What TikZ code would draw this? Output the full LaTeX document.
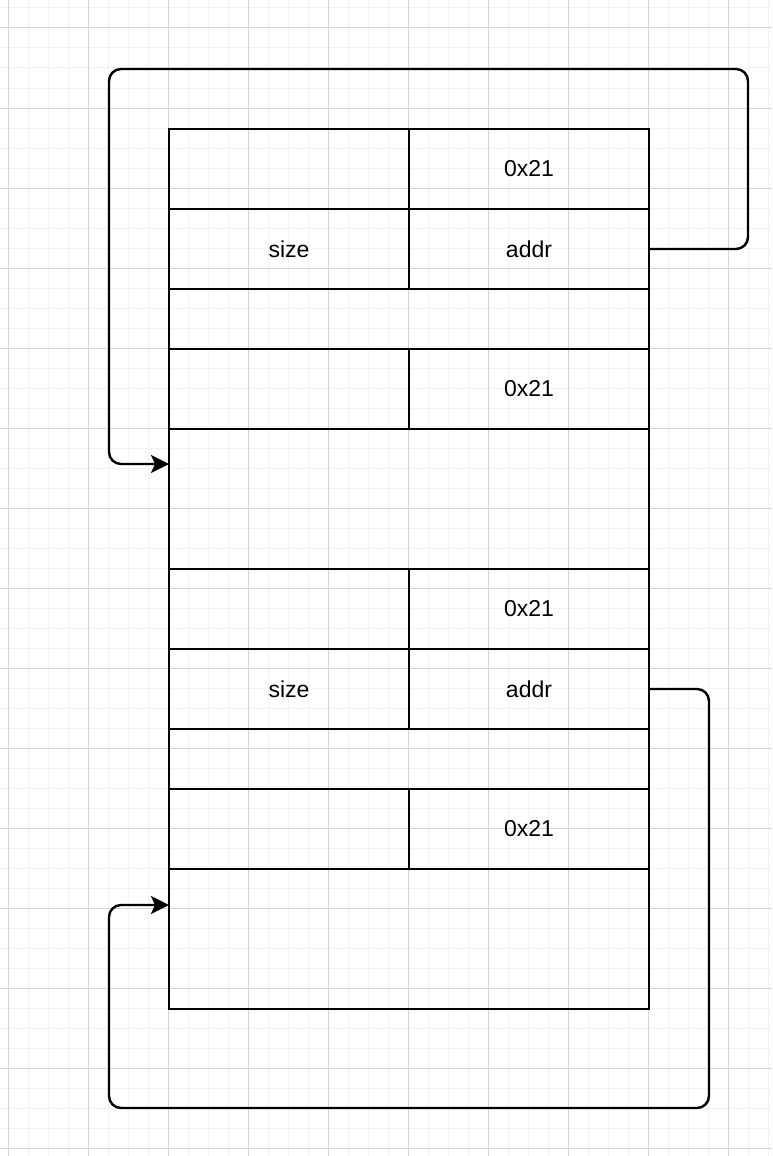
\documentclass[tikz,border=0pt]{standalone}
\usepackage{fontspec}
\setmainfont{Liberation Sans}
\usetikzlibrary{arrows.meta}
\definecolor{gridminor}{HTML}{F2F2F2}
\definecolor{gridmajor}{HTML}{D4D4D4}
\begin{document}
\begin{tikzpicture}[x=1pt,y=-1pt,
  cell/.style={draw=black,line width=2pt,outer sep=0pt,minimum height=#1,inner sep=0pt,anchor=north west,font=\fontsize{23}{27}\selectfont},
  half/.style={cell=#1,minimum width=240pt},
  full/.style={cell=#1,minimum width=480pt},
  link/.style={draw=black,line width=2.4pt,rounded corners=12pt,-{Stealth[length=18pt,width=18pt,inset=4pt]}}]
\useasboundingbox (0,0) rectangle (772,1156);
% grid
\foreach \i in {0,...,39} {\draw[gridminor,line width=1pt] (8+20*\i,0) -- (8+20*\i,1156);}
\foreach \i in {0,...,58} {\draw[gridminor,line width=1pt] (0,8+20*\i) -- (772,8+20*\i);}
\foreach \i in {0,...,9} {\draw[gridmajor,line width=1pt] (8+80*\i,0) -- (8+80*\i,1156);}
\foreach \i in {0,...,14} {\draw[gridmajor,line width=1pt] (0,28+80*\i) -- (772,28+80*\i);}
% table
\node[half=80pt] (a1) at (169,129) {};
\node[half=80pt] (b1) at (409,129) {0x21};
\node[half=80pt] (a2) at (169,209) {size};
\node[half=80pt] (b2) at (409,209) {addr};
\node[full=60pt] (c3) at (169,289) {};
\node[half=80pt] (a4) at (169,349) {};
\node[half=80pt] (b4) at (409,349) {0x21};
\node[full=140pt] (c5) at (169,429) {};
\node[half=80pt] (a6) at (169,569) {};
\node[half=80pt] (b6) at (409,569) {0x21};
\node[half=80pt] (a7) at (169,649) {size};
\node[half=80pt] (b7) at (409,649) {addr};
\node[full=60pt] (c8) at (169,729) {};
\node[half=80pt] (a9) at (169,789) {};
\node[half=80pt] (b9) at (409,789) {0x21};
\node[full=140pt] (c10) at (169,869) {};
% connectors
\draw[link] (b2.east) -- (748,249) -- (748,69) -- (109,69) -- (109,464) -- (c5.west |- 0,464);
\draw[link] (b7.east) -- (709,689) -- (709,1108) -- (109,1108) -- (109,905) -- (c10.west |- 0,905);
\end{tikzpicture}
\end{document}
